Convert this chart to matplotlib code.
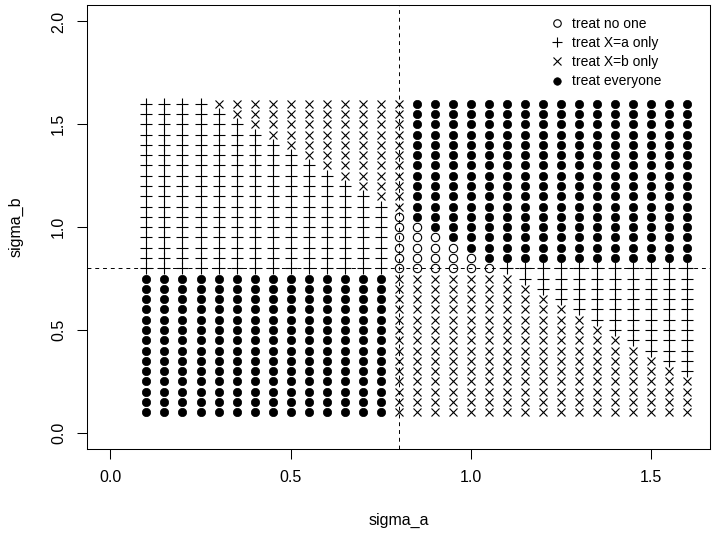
import matplotlib
matplotlib.use("Agg")
import matplotlib.pyplot as plt
from matplotlib.lines import Line2D

plt.rcParams['font.family'] = ['Liberation Sans', 'DejaVu Sans']

# grid of the two standard deviations
sigma_a = [0.10, 0.15, 0.20, 0.25, 0.30, 0.35, 0.40, 0.45, 0.50, 0.55, 0.60,
           0.65, 0.70, 0.75, 0.80, 0.85, 0.90, 0.95, 1.00, 1.05, 1.10, 1.15,
           1.20, 1.25, 1.30, 1.35, 1.40, 1.45, 1.50, 1.55, 1.60]
sigma_b = [0.10, 0.15, 0.20, 0.25, 0.30, 0.35, 0.40, 0.45, 0.50, 0.55, 0.60,
           0.65, 0.70, 0.75, 0.80, 0.85, 0.90, 0.95, 1.00, 1.05, 1.10, 1.15,
           1.20, 1.25, 1.30, 1.35, 1.40, 1.45, 1.50, 1.55, 1.60]

# decision at each grid point, one string per sigma_b row (top row = 1.60)
# o = treat no one, + = X=a only, x = X=b only, * = everyone
decision_rows = [
    "++++xxxxxxxxxxx****************",  # 1.60
    "+++++xxxxxxxxxx****************",  # 1.55
    "++++++xxxxxxxxx****************",  # 1.50
    "+++++++xxxxxxxx****************",  # 1.45
    "++++++++xxxxxxx****************",  # 1.40
    "+++++++++xxxxxx****************",  # 1.35
    "++++++++++xxxxx****************",  # 1.30
    "+++++++++++xxxx****************",  # 1.25
    "++++++++++++xxx****************",  # 1.20
    "+++++++++++++xx****************",  # 1.15
    "++++++++++++++x****************",  # 1.10
    "++++++++++++++o****************",  # 1.05
    "++++++++++++++oo***************",  # 1.00
    "++++++++++++++ooo**************",  # 0.95
    "++++++++++++++oooo*************",  # 0.90
    "++++++++++++++ooooo************",  # 0.85
    "++++++++++++++oooooo+++++++++++",  # 0.80
    "**************xxxxxxx++++++++++",  # 0.75
    "**************xxxxxxxx+++++++++",  # 0.70
    "**************xxxxxxxxx++++++++",  # 0.65
    "**************xxxxxxxxxx+++++++",  # 0.60
    "**************xxxxxxxxxxx++++++",  # 0.55
    "**************xxxxxxxxxxxx+++++",  # 0.50
    "**************xxxxxxxxxxxxx++++",  # 0.45
    "**************xxxxxxxxxxxxxx+++",  # 0.40
    "**************xxxxxxxxxxxxxxx++",  # 0.35
    "**************xxxxxxxxxxxxxxxx+",  # 0.30
    "**************xxxxxxxxxxxxxxxxx",  # 0.25
    "**************xxxxxxxxxxxxxxxxx",  # 0.20
    "**************xxxxxxxxxxxxxxxxx",  # 0.15
    "**************xxxxxxxxxxxxxxxxx",  # 0.10
]
legend_labels = ["treat no one", "treat X=a only", "treat X=b only", "treat everyone"]
codes = ["o", "+", "x", "*"]

assert len(decision_rows) == len(sigma_b)
assert all(len(r) == len(sigma_a) for r in decision_rows)

styles = {
    "o": dict(marker="o", ms=6.0, mfc="none", mec="black", mew=0.8),
    "+": dict(marker="+", ms=8.0, mec="black", mew=0.8),
    "x": dict(marker="x", ms=6.0, mec="black", mew=0.8),
    "*": dict(marker="o", ms=6.0, mfc="black", mec="black", mew=0.5),
}

fig = plt.figure(figsize=(7.13, 5.35), dpi=100)
ax = fig.add_axes([87.3 / 713, 1 - 449.3 / 535, 623 / 713, 444.3 / 535])

sb_top_down = sigma_b[::-1]
for code in codes:
    xs, ys = [], []
    for row, sb in zip(decision_rows, sb_top_down):
        for ch, sa in zip(row, sigma_a):
            if ch == code:
                xs.append(sa)
                ys.append(sb)
    ax.plot(xs, ys, linestyle="none", **styles[code])

ax.axhline(0.8, color="black", lw=0.7, dashes=(4, 4))
ax.axvline(0.8, color="black", lw=0.7, dashes=(4, 4))

ax.set_xlim(-0.064, 1.664)
ax.set_ylim(-0.08, 2.08)
ax.set_xticks([0.0, 0.5, 1.0, 1.5])
ax.set_yticks([0.0, 0.5, 1.0, 1.5, 2.0])
ax.set_xticklabels(["0.0", "0.5", "1.0", "1.5"])
ax.set_yticklabels(["0.0", "0.5", "1.0", "1.5", "2.0"], rotation=90, va="center")
ax.tick_params(direction="out", length=7.2, width=0.75, labelsize=11.5, pad=8)
for sp in ax.spines.values():
    sp.set_linewidth(0.75)

ax.set_xlabel("sigma_a", fontsize=11.5, labelpad=20)
ax.set_ylabel("sigma_b", fontsize=11.5, labelpad=20)

# legend markers are drawn a little smaller than the plot markers
handles = []
for c in codes:
    st = dict(styles[c])
    st["ms"] = st["ms"] * 0.9
    handles.append(Line2D([], [], linestyle="none", **st))
ax.legend(handles, legend_labels, loc="upper left", bbox_to_anchor=(0.743, 0.974),
          frameon=False, fontsize=10, handlelength=1.0, handletextpad=0.55,
          labelspacing=0.38, borderpad=0, borderaxespad=0)

fig.savefig("out.png", dpi=100)
